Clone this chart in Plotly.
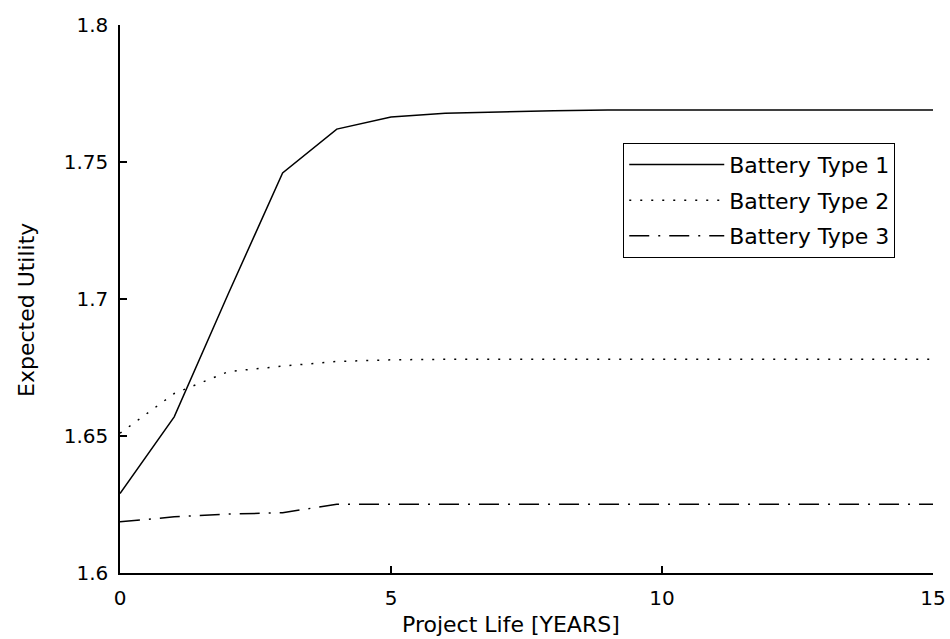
import plotly.graph_objects as go

years = list(range(0, 16))
type1 = [1.629, 1.657, 1.702, 1.746, 1.762, 1.7664, 1.7678, 1.7683, 1.7687, 1.769,
         1.769, 1.769, 1.769, 1.769, 1.769, 1.769]
type2 = [1.651, 1.6655, 1.6735, 1.6755, 1.6772, 1.6778, 1.678, 1.678, 1.678, 1.678,
         1.678, 1.678, 1.678, 1.678, 1.678, 1.678]
type3 = [1.6187, 1.6205, 1.6215, 1.622, 1.6251, 1.6251, 1.6251, 1.6251, 1.6251, 1.6251,
         1.6251, 1.6251, 1.6251, 1.6251, 1.6251, 1.6251]
names = ["Battery Type 1", "Battery Type 2", "Battery Type 3"]
dashes = ["solid", "2px,9px", "20px,9px,2px,9px"]

xticks = [0, 5, 10, 15]
yticks = [1.6, 1.65, 1.7, 1.75, 1.8]
yticklabels = ["1.6", "1.65", "1.7", "1.75", "1.8"]

FONT = "DejaVu Sans"

fig = go.Figure()
for i, (ys, nm, ds) in enumerate(zip([type1, type2, type3], names, dashes)):
    fig.add_trace(go.Scatter(x=years, y=ys, mode="lines", name=nm, legendgroup=f"g{i}",
                             line=dict(color="black", width=1.5, dash=ds)))

fig.update_layout(
    width=950, height=639,
    margin=dict(l=120, r=17, t=25, b=66, autoexpand=False),
    paper_bgcolor="white", plot_bgcolor="white",
    font=dict(family=FONT, size=20, color="black"),
    showlegend=True,
    legend=dict(x=0.619, y=0.785, xanchor="left", yanchor="top",
                bgcolor="white", bordercolor="black", borderwidth=1,
                itemwidth=95, tracegroupgap=4,
                font=dict(family=FONT, size=22, color="black")),
    xaxis=dict(range=[0, 15], tickvals=xticks, ticks="inside", ticklen=7,
               tickcolor="black", tickwidth=1.5, showline=True, linecolor="black",
               linewidth=1.5, showgrid=False, zeroline=False, mirror=False,
               automargin=False, ticklabelstandoff=6, tickfont=dict(size=20)),
    yaxis=dict(range=[1.6, 1.8], tickvals=yticks, ticktext=yticklabels, ticks="inside",
               ticklen=7, tickcolor="black", tickwidth=1.5, showline=True,
               linecolor="black", linewidth=1.5, showgrid=False, zeroline=False,
               automargin=False, mirror=False, ticklabelstandoff=6, tickfont=dict(size=20)),
    annotations=[
        dict(text="Project Life [YEARS]", x=511, y=624, xref="paper", yref="paper",
             showarrow=False, font=dict(size=22)),
        dict(text="Expected Utility", x=26, y=310, xref="paper", yref="paper",
             showarrow=False, textangle=-90, font=dict(size=22)),
    ],
)

# convert pixel positions of axis titles into paper coordinates
plot_l, plot_r, plot_t, plot_b = 120, 933, 25, 573
for ann in fig.layout.annotations:
    px, py = ann.x, ann.y
    ann.x = (px - plot_l) / (plot_r - plot_l)
    ann.y = (plot_b - py) / (plot_b - plot_t)
    ann.xanchor = "center"
    ann.yanchor = "middle"

fig.write_html("out.html")
